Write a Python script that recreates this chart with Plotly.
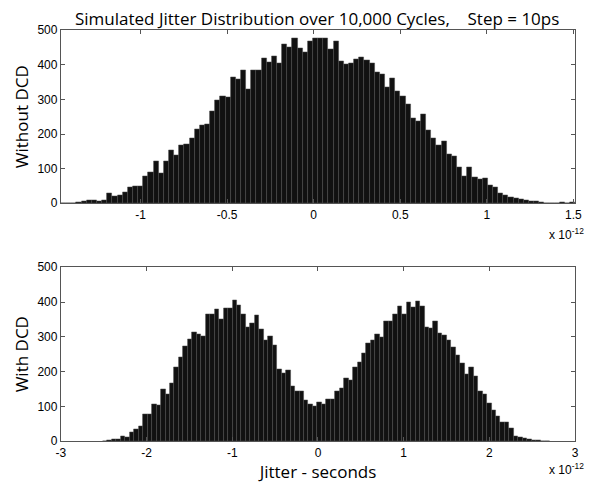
import plotly.graph_objects as go

# Histogram counts per bin (100 bins each), jitter in units of 1e-12 s
top_counts = [1, 1, 1, 2, 5, 9, 9, 7, 9, 30,
              19, 22, 31, 47, 49, 49, 78, 89, 121, 87,
              121, 152, 138, 168, 170, 188, 213, 226, 228, 265,
              298, 310, 307, 363, 358, 384, 330, 384, 384, 420,
              407, 425, 404, 459, 452, 477, 448, 437, 468, 477,
              476, 476, 445, 467, 410, 402, 405, 417, 421, 412,
              404, 379, 374, 334, 362, 325, 309, 285, 245, 236,
              258, 212, 187, 168, 180, 142, 137, 103, 78, 105,
              75, 70, 73, 51, 47, 28, 23, 16, 14, 12,
              9, 7, 5, 2, 1, 0, 1, 4, 1, 2]
top_bin_start = -1.46
top_bin_width = 0.0297

bot_counts = [1, 2, 5, 7, 14, 10, 26, 35, 43, 77,
              77, 105, 102, 148, 134, 168, 212, 240, 273, 292,
              313, 308, 301, 366, 364, 378, 350, 381, 381, 406,
              390, 366, 327, 338, 362, 322, 290, 303, 277, 206,
              196, 204, 159, 143, 143, 117, 106, 101, 113, 105,
              120, 120, 145, 152, 180, 176, 213, 226, 254, 283,
              291, 308, 299, 345, 345, 364, 389, 364, 399, 384,
              401, 387, 327, 324, 344, 310, 306, 290, 271, 248,
              223, 192, 213, 187, 143, 136, 108, 88, 71, 55,
              55, 38, 15, 12, 8, 6, 3, 2, 1, 1]
bot_bin_start = -2.51
bot_bin_width = 0.0521

top_ticks = [-1, -0.5, 0, 0.5, 1, 1.5]
top_ticktext = ["-1", "-0.5", "0", "0.5", "1", "1.5"]
bot_ticks = [-3, -2, -1, 0, 1, 2, 3]
bot_ticktext = ["-3", "-2", "-1", "0", "1", "2", "3"]
y_ticks = [0, 100, 200, 300, 400, 500]

top_x = [top_bin_start + (i + 0.5) * top_bin_width for i in range(len(top_counts))]
bot_x = [bot_bin_start + (i + 0.5) * bot_bin_width for i in range(len(bot_counts))]

bar_style = dict(color="#111111", line=dict(color="#4a4a4a", width=0.5))

fig = go.Figure()
fig.add_trace(go.Bar(x=top_x, y=top_counts, width=top_bin_width, marker=bar_style,
                     xaxis="x", yaxis="y", showlegend=False))
fig.add_trace(go.Bar(x=bot_x, y=bot_counts, width=bot_bin_width, marker=bar_style,
                     xaxis="x2", yaxis="y2", showlegend=False))

tick_font = dict(family="Liberation Sans, Arial, sans-serif", size=12, color="#000")
label_font = dict(family="Open Sans, Noto Sans, sans-serif", size=17, color="#000")

axis_common = dict(showline=True, linecolor="#555", linewidth=1, mirror="ticks",
                   ticks="inside", ticklen=4, tickcolor="#555", showgrid=False,
                   zeroline=False, tickfont=tick_font)

fig.update_layout(
    width=590, height=488,
    margin=dict(l=0, r=0, t=0, b=0),
    plot_bgcolor="white", paper_bgcolor="white",
    bargap=0,
    xaxis=dict(domain=[0.0966, 0.9864], range=[-1.46, 1.51], anchor="y",
               tickvals=top_ticks, ticktext=top_ticktext, **axis_common),
    yaxis=dict(domain=[0.586, 0.951], range=[0, 500], anchor="x",
               tickvals=y_ticks, title=dict(text="Without DCD", font=label_font, standoff=4),
               **axis_common),
    xaxis2=dict(domain=[0.0966, 0.9864], range=[-3, 3], anchor="y2",
                tickvals=bot_ticks, ticktext=bot_ticktext,
                title=dict(text="Jitter - seconds", font=label_font, standoff=2),
                **axis_common),
    yaxis2=dict(domain=[0.084, 0.451], range=[0, 500], anchor="x2",
                tickvals=y_ticks, title=dict(text="With DCD", font=label_font, standoff=4),
                **axis_common),
    annotations=[
        dict(text="Simulated Jitter Distribution over 10,000 Cycles,&nbsp;&nbsp;&nbsp;&nbsp;Step = 10ps",
             x=0.54, y=1 - 12 / 488, xref="paper", yref="paper", showarrow=False,
             xanchor="center", yanchor="middle",
             font=dict(family="Open Sans, Noto Sans, sans-serif", size=17, color="#000")),
        dict(text="x 10<sup>-12</sup>", x=573 / 590, y=1 - 234 / 488, xref="paper", yref="paper",
             showarrow=False, xanchor="center", yanchor="middle", font=tick_font),
        dict(text="x 10<sup>-12</sup>", x=573 / 590, y=0, xref="paper", yref="paper",
             showarrow=False, xanchor="center", yanchor="bottom", yshift=2, font=tick_font),
    ],
)

fig.write_html("out.html")
